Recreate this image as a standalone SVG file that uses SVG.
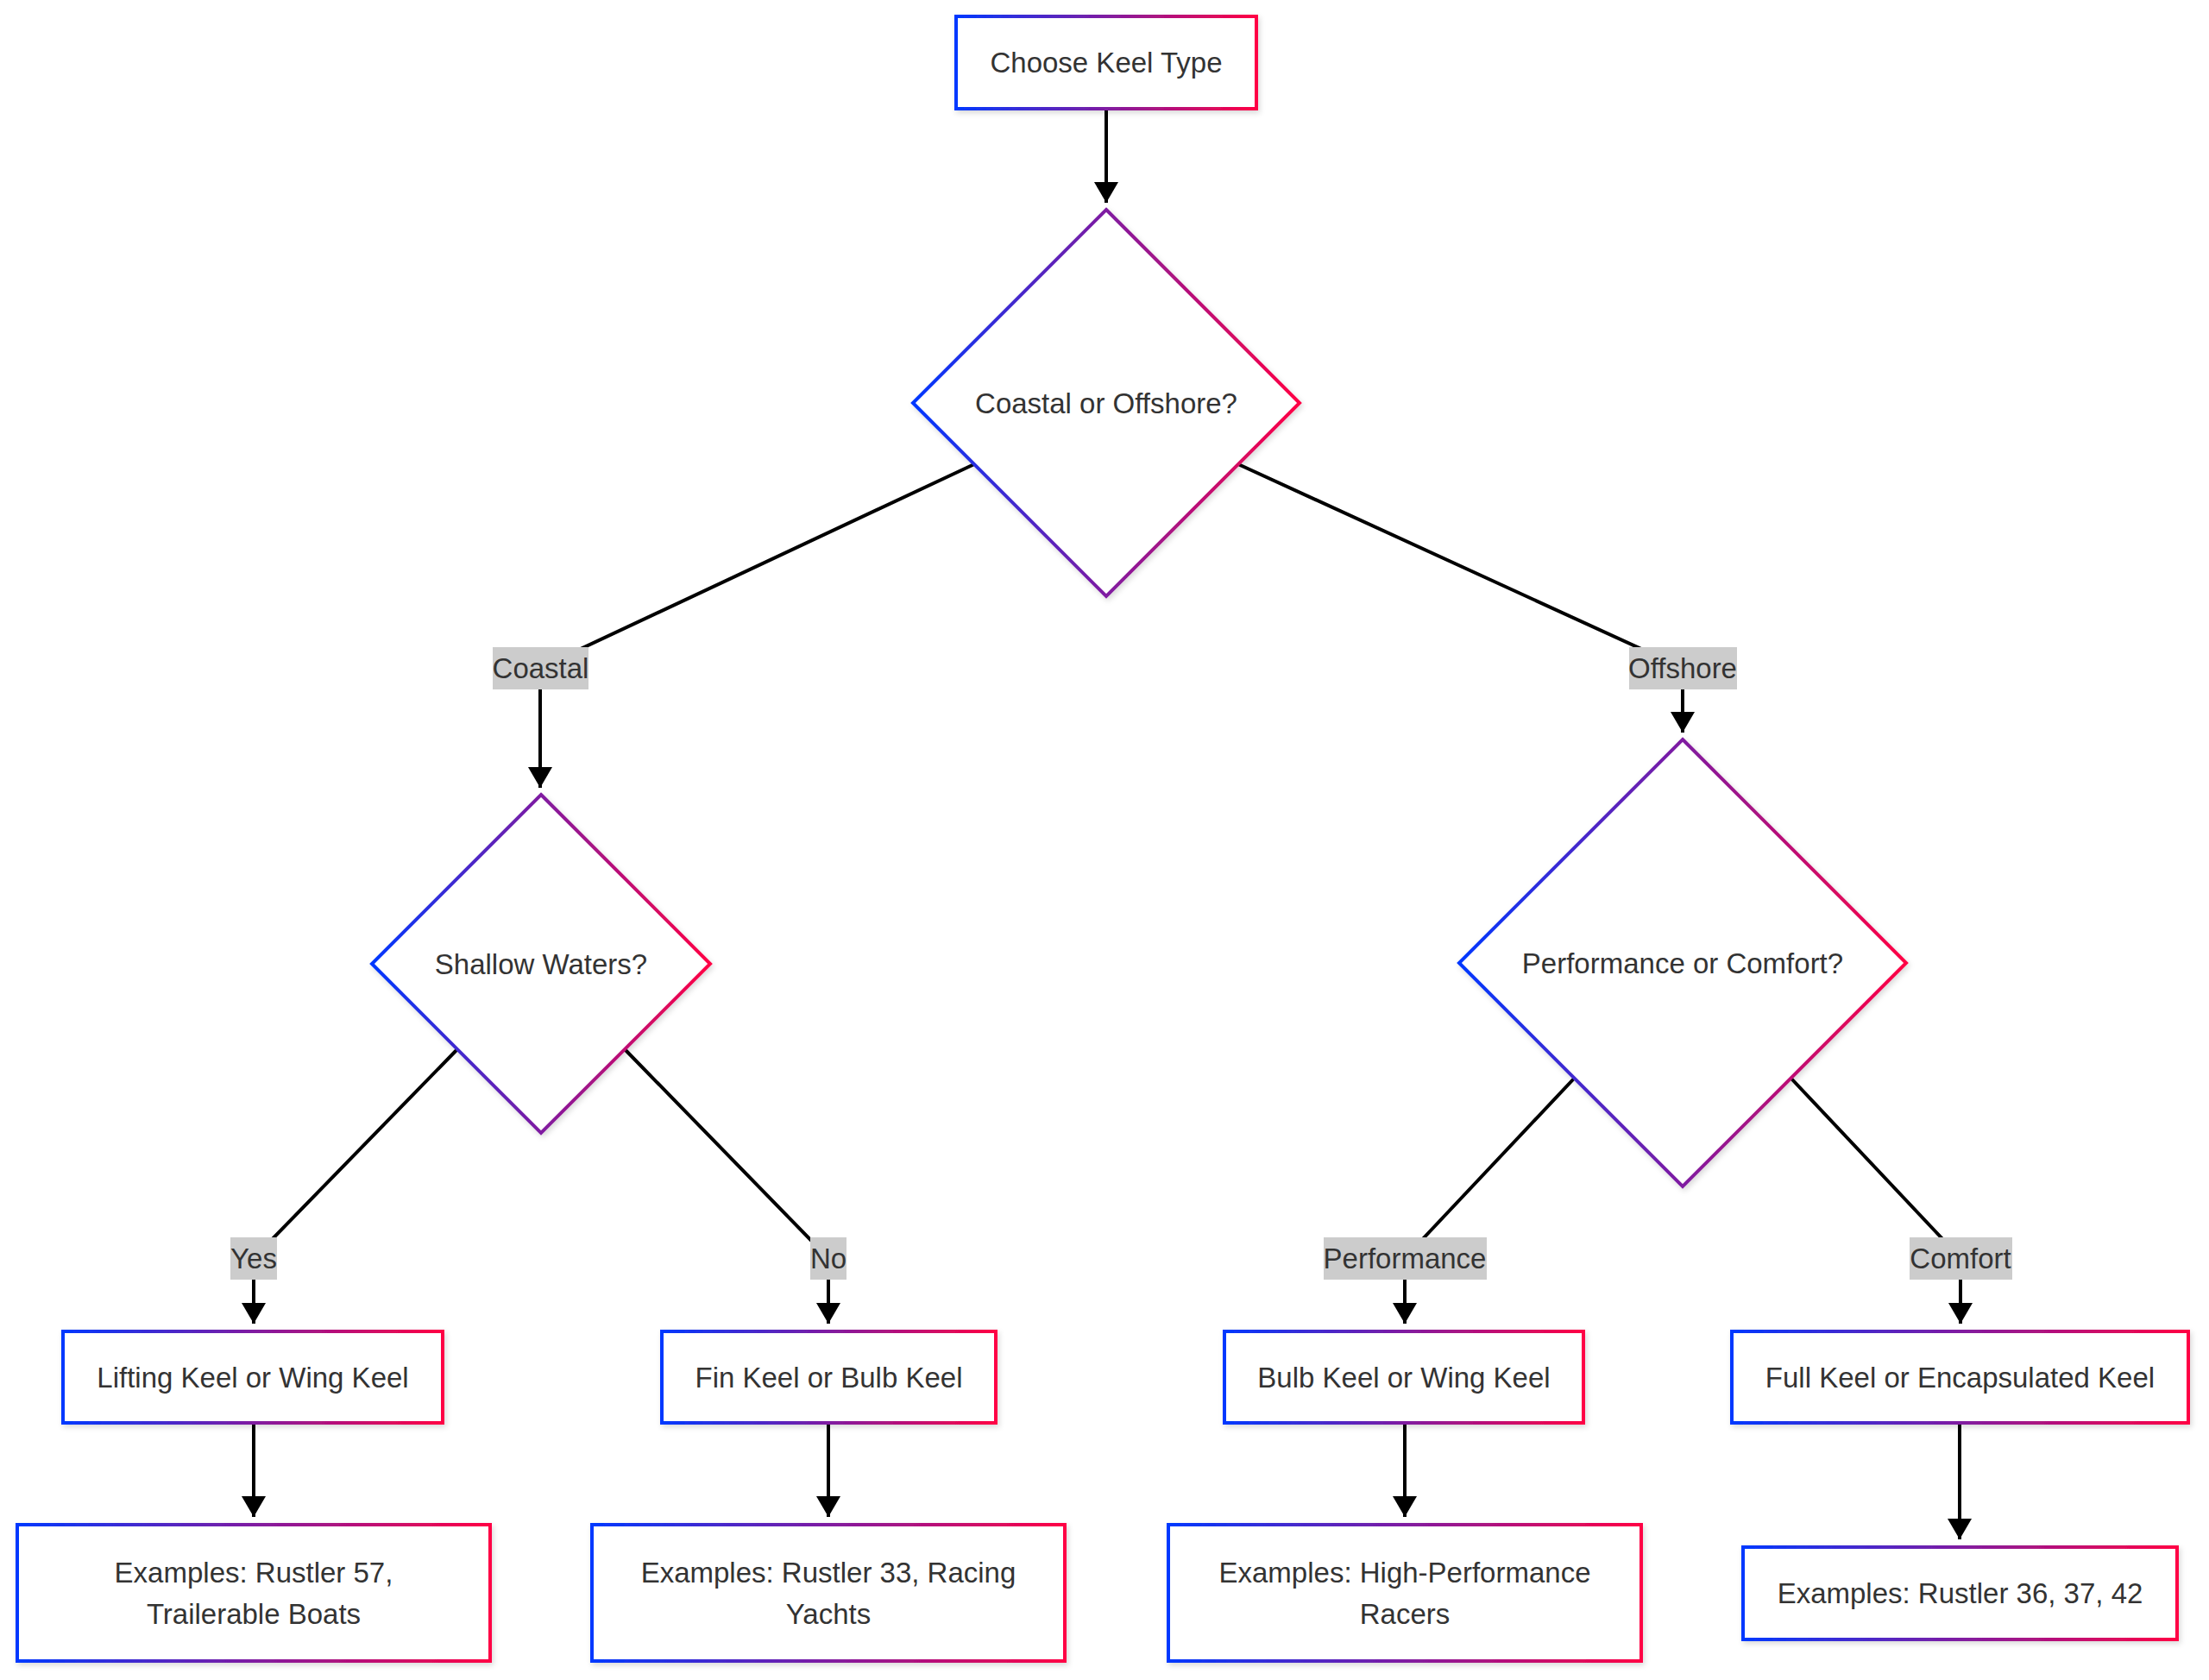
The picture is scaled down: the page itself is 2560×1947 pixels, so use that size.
<svg xmlns="http://www.w3.org/2000/svg" width="2560" height="1947" viewBox="0 0 2560 1947">
<style>
.node{fill:#ffffff;stroke:url(#grad);stroke-width:4;filter:url(#shadow)}
.t{font-family:"Liberation Sans",Arial,Helvetica,sans-serif;font-size:33px;fill:#333333;text-anchor:middle}
.edge{fill:none;stroke:#000000;stroke-width:4}
.lbl{fill:#cccccc}
</style>
<defs>
<linearGradient id="grad" x1="0" y1="0" x2="1" y2="0">
<stop offset="0" stop-color="#0038ff"/>
<stop offset="1" stop-color="#ff0044"/>
</linearGradient>
<filter id="shadow" x="-10%" y="-10%" width="120%" height="130%">
<feDropShadow dx="2" dy="3" stdDeviation="3" flood-color="#000000" flood-opacity="0.15"/>
</filter>
<marker id="arrow" viewBox="0 0 24 28" refX="24" refY="14" markerWidth="24" markerHeight="28" markerUnits="userSpaceOnUse" orient="auto">
<path d="M0,0 L24,14 L0,28 z" fill="#000000"/>
</marker>
</defs>
<rect width="2560" height="1947" fill="#ffffff"/>

<g id="connectors">
<path class="edge" d="M1282,126 L1282,235" marker-end="url(#arrow)"/>
<path class="edge" d="M1129,538 L626,774 L626,913" marker-end="url(#arrow)"/>
<path class="edge" d="M1435,538 L1950,774 L1950,849" marker-end="url(#arrow)"/>
<path class="edge" d="M530,1216 L294,1458 L294,1534" marker-end="url(#arrow)"/>
<path class="edge" d="M724,1216 L960,1458 L960,1534" marker-end="url(#arrow)"/>
<path class="edge" d="M1824,1250 L1628,1458 L1628,1534" marker-end="url(#arrow)"/>
<path class="edge" d="M2076,1250 L2272,1458 L2272,1534" marker-end="url(#arrow)"/>
<path class="edge" d="M294,1649 L294,1758" marker-end="url(#arrow)"/>
<path class="edge" d="M960,1649 L960,1758" marker-end="url(#arrow)"/>
<path class="edge" d="M1628,1649 L1628,1758" marker-end="url(#arrow)"/>
<path class="edge" d="M2271,1649 L2271,1784" marker-end="url(#arrow)"/>
</g>

<g id="edge-labels">
<g id="label-coastal"><rect class="lbl" x="571" y="750" width="111" height="49"/><text class="t" x="626.5" y="786">Coastal</text></g>
<g id="label-offshore"><rect class="lbl" x="1888" y="750" width="125" height="49"/><text class="t" x="1950" y="786">Offshore</text></g>
<g id="label-yes"><rect class="lbl" x="267" y="1434" width="54" height="49"/><text class="t" x="294" y="1470">Yes</text></g>
<g id="label-no"><rect class="lbl" x="939" y="1434" width="42" height="49"/><text class="t" x="960" y="1470">No</text></g>
<g id="label-performance"><rect class="lbl" x="1534" y="1434" width="189" height="49"/><text class="t" x="1628" y="1470">Performance</text></g>
<g id="label-comfort"><rect class="lbl" x="2213" y="1434" width="119" height="49"/><text class="t" x="2272" y="1470">Comfort</text></g>
</g>

<g id="node-start">
<rect class="node" x="1108" y="19" width="348" height="107"/>
<text class="t" x="1282" y="84">Choose Keel Type</text>
</g>
<g id="node-coastal-offshore">
<polygon class="node" points="1282,243 1506,467 1282,691 1058,467"/>
<text class="t" x="1282" y="479">Coastal or Offshore?</text>
</g>
<g id="node-shallow">
<polygon class="node" points="627,921 823,1117 627,1313 431,1117"/>
<text class="t" x="627" y="1129">Shallow Waters?</text>
</g>
<g id="node-performance-comfort">
<polygon class="node" points="1950,857 2209,1116 1950,1375 1691,1116"/>
<text class="t" x="1950" y="1128">Performance or Comfort?</text>
</g>
<g id="node-lifting">
<rect class="node" x="73" y="1543" width="440" height="106"/>
<text class="t" x="293" y="1608">Lifting Keel or Wing Keel</text>
</g>
<g id="node-fin">
<rect class="node" x="767" y="1543" width="387" height="106"/>
<text class="t" x="960.5" y="1608">Fin Keel or Bulb Keel</text>
</g>
<g id="node-bulb">
<rect class="node" x="1419" y="1543" width="416" height="106"/>
<text class="t" x="1627" y="1608">Bulb Keel or Wing Keel</text>
</g>
<g id="node-full">
<rect class="node" x="2007" y="1543" width="529" height="106"/>
<text class="t" x="2271.5" y="1608">Full Keel or Encapsulated Keel</text>
</g>
<g id="node-ex1">
<rect class="node" x="20" y="1767" width="548" height="158"/>
<text class="t" x="294" y="1834">Examples: Rustler 57,</text>
<text class="t" x="294" y="1882">Trailerable Boats</text>
</g>
<g id="node-ex2">
<rect class="node" x="686" y="1767" width="548" height="158"/>
<text class="t" x="960" y="1834">Examples: Rustler 33, Racing</text>
<text class="t" x="960" y="1882">Yachts</text>
</g>
<g id="node-ex3">
<rect class="node" x="1354" y="1767" width="548" height="158"/>
<text class="t" x="1628" y="1834">Examples: High-Performance</text>
<text class="t" x="1628" y="1882">Racers</text>
</g>
<g id="node-ex4">
<rect class="node" x="2020" y="1793" width="503" height="107"/>
<text class="t" x="2271.5" y="1858">Examples: Rustler 36, 37, 42</text>
</g>
</svg>
